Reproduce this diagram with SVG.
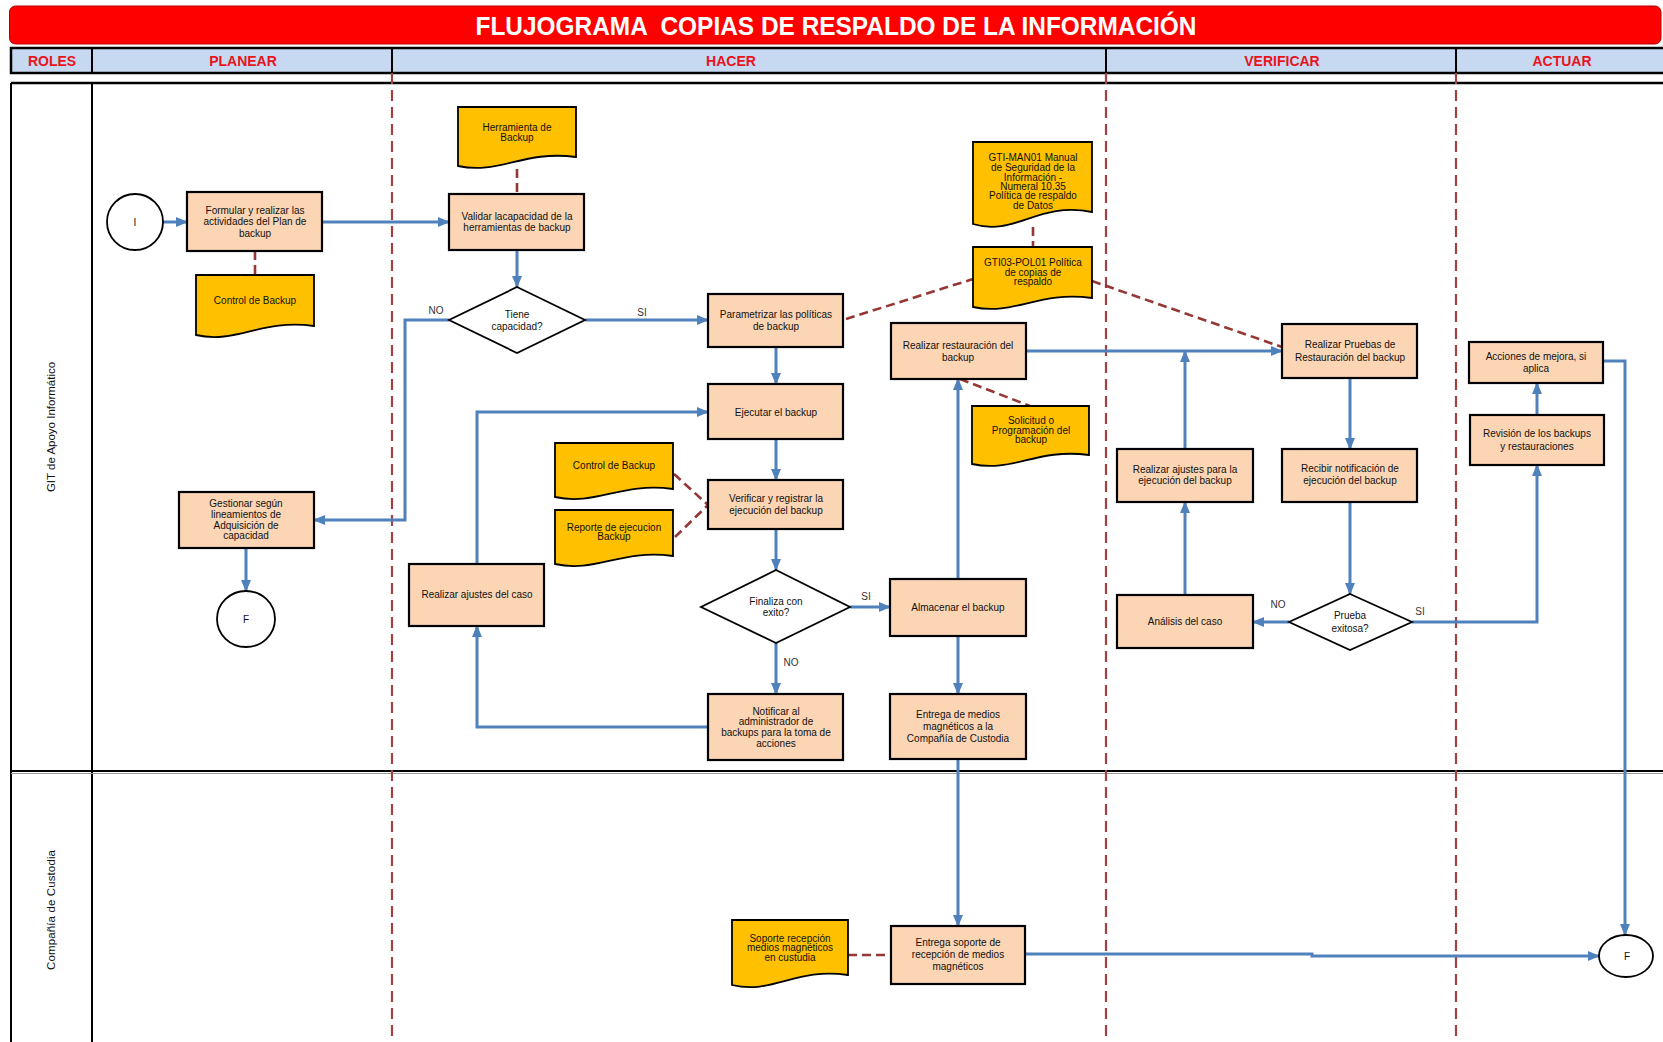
<svg xmlns="http://www.w3.org/2000/svg" width="1663" height="1042" viewBox="0 0 1663 1042">
<defs>
<style>
text{font-family:"Liberation Sans",Arial,sans-serif;fill:#111;font-size:10px;text-anchor:middle}
.title{fill:#fff;font-weight:bold;font-size:25px}
.hdr{fill:#E8141C;font-weight:bold;font-size:14px}
.lane{font-size:11.5px;fill:#111}
.node rect,.box{fill:#FCD5B4;stroke:#000;stroke-width:2.2}
.doc path{fill:#FFC000;stroke:#000;stroke-width:1.8}
.dia{fill:#fff;stroke:#000;stroke-width:1.8}
.circ{fill:#fff;stroke:#000;stroke-width:1.8}
.flow{fill:none;stroke:#4F81BD;stroke-width:3;marker-end:url(#ah)}
.link{fill:none;stroke:#953735;stroke-width:2.6;stroke-dasharray:9 5}
.phase{fill:none;stroke:#A0423F;stroke-width:2.2;stroke-dasharray:11 6}
.lbl{font-size:10px;fill:#333}
</style>
<marker id="ah" markerUnits="userSpaceOnUse" markerWidth="12" markerHeight="10" refX="11" refY="5" orient="auto">
<path d="M0,0 L12,5 L0,10 Z" fill="#4F81BD"/>
</marker>
</defs>
<rect width="1663" height="1042" fill="#fff"/>

<!-- title -->
<g id="title">
<rect x="9.5" y="6" width="1651.5" height="38" rx="6" fill="#FF0000" stroke="#B00000" stroke-width="1"/>
<text class="title" x="836" y="35" textLength="721" lengthAdjust="spacingAndGlyphs" xml:space="preserve">FLUJOGRAMA  COPIAS DE RESPALDO DE LA INFORMACIÓN</text>
</g>

<!-- header -->
<g id="header">
<rect x="11" y="48" width="1660" height="25" fill="#C6D9F1" stroke="#000" stroke-width="2.5"/>
<line x1="92" y1="48" x2="92" y2="73" stroke="#000" stroke-width="2"/>
<line x1="392" y1="48" x2="392" y2="73" stroke="#000" stroke-width="2"/>
<line x1="1106" y1="48" x2="1106" y2="73" stroke="#000" stroke-width="2"/>
<line x1="1456" y1="48" x2="1456" y2="73" stroke="#000" stroke-width="2"/>
<text class="hdr" x="52" y="65.5">ROLES</text>
<text class="hdr" x="243" y="65.5">PLANEAR</text>
<text class="hdr" x="731" y="65.5">HACER</text>
<text class="hdr" x="1282" y="65.5">VERIFICAR</text>
<text class="hdr" x="1562" y="65.5">ACTUAR</text>
</g>

<!-- swimlanes -->
<g id="lanes">
<line x1="11" y1="83" x2="1663" y2="83" stroke="#000" stroke-width="2.5"/>
<line x1="11" y1="83" x2="11" y2="1042" stroke="#000" stroke-width="2"/>
<line x1="92" y1="83" x2="92" y2="1042" stroke="#000" stroke-width="2"/>
<line x1="11" y1="771" x2="1663" y2="771" stroke="#000" stroke-width="2"/>
<line x1="11" y1="773.5" x2="1663" y2="773.5" stroke="#999" stroke-width="1"/>
<text class="lane" transform="translate(55,427) rotate(-90)">GIT de Apoyo Informático</text>
<text class="lane" transform="translate(55,910) rotate(-90)" textLength="120">Compañía de Custodia</text>
<line class="phase" x1="392" y1="73" x2="392" y2="1042"/>
<line class="phase" x1="1106" y1="73" x2="1106" y2="1042"/>
<line class="phase" x1="1456" y1="73" x2="1456" y2="1042"/>
</g>

<!-- connectors -->
<g id="connectors">
<path class="flow" d="M163,222 H187"/>
<path class="flow" d="M322,222 H449"/>
<path class="flow" d="M517,250 V287"/>
<path class="flow" d="M449,320 H405 V520 H314"/>
<path class="flow" d="M585,320 H708"/>
<path class="flow" d="M776,347 V384"/>
<path class="flow" d="M776,439 V480"/>
<path class="flow" d="M776,529 V570"/>
<path class="flow" d="M776,643 V694"/>
<path class="flow" d="M708,727 H477 V626"/>
<path class="flow" d="M477,564 V412 H708"/>
<path class="flow" d="M850,607 H890"/>
<path class="flow" d="M958,579 V379"/>
<path class="flow" d="M958,636 V694"/>
<path class="flow" d="M958,759 V926"/>
<path class="flow" d="M1026,351 H1282"/>
<path class="flow" d="M1185,449 V351"/>
<path class="flow" d="M1350,378 V449"/>
<path class="flow" d="M1350,502 V594"/>
<path class="flow" d="M1289,622 H1253"/>
<path class="flow" d="M1185,595 V502"/>
<path class="flow" d="M1412,622 H1537 V465"/>
<path class="flow" d="M1537,415 V383"/>
<path class="flow" d="M1603,361 H1625 V935"/>
<path class="flow" d="M1025,954 H1312 V956 H1599"/>
<path class="flow" d="M246,548 V591"/>

<path class="link" d="M255,251 V275"/>
<path class="link" d="M517,169 V194"/>
<path class="link" d="M1033,227 V247"/>
<path class="link" d="M846,319 L973,279"/>
<path class="link" d="M1092,281 L1282,347"/>
<path class="link" d="M960,379 L1030,406"/>
<path class="link" d="M674,474 L708,505"/>
<path class="link" d="M675,537 L708,505"/>
<path class="link" d="M848,955 H891"/>

<text class="lbl" x="436" y="314">NO</text>
<text class="lbl" x="642" y="316">SI</text>
<text class="lbl" x="791" y="666">NO</text>
<text class="lbl" x="866" y="600">SI</text>
<text class="lbl" x="1278" y="608">NO</text>
<text class="lbl" x="1420" y="615">SI</text>
</g>

<!-- start / end -->
<g id="start"><circle class="circ" cx="135" cy="222" r="28"/><text x="135" y="226">I</text></g>
<g id="end1"><ellipse class="circ" cx="246" cy="619" rx="29" ry="28"/><text x="246" y="623">F</text></g>
<g id="end2"><ellipse class="circ" cx="1626" cy="956" rx="27" ry="21"/><text x="1627" y="960">F</text></g>

<!-- process nodes -->
<g id="formular" class="node"><rect x="187" y="192" width="135" height="59"/>
<text x="255" y="213.5">Formular y realizar las</text><text x="255" y="224.5">actividades del Plan de</text><text x="255" y="236.5">backup</text></g>
<g id="validar" class="node"><rect x="449" y="194" width="135" height="56"/>
<text x="517" y="219.5">Validar lacapacidad de la</text><text x="517" y="230.5">herramientas de backup</text></g>
<g id="parametrizar" class="node"><rect x="708" y="294" width="135" height="53"/>
<text x="776" y="317.5">Parametrizar las políticas</text><text x="776" y="329.5">de backup</text></g>
<g id="ejecutar" class="node"><rect x="708" y="384" width="135" height="55"/>
<text x="776" y="415.5">Ejecutar el backup</text></g>
<g id="verificar" class="node"><rect x="708" y="480" width="135" height="49"/>
<text x="776" y="501.5">Verificar y registrar la</text><text x="776" y="513.5">ejecución del backup</text></g>
<g id="notificar" class="node"><rect x="708" y="694" width="135" height="66"/>
<text x="776" y="714.5">Notificar al</text><text x="776" y="724.5">administrador de</text><text x="776" y="735.5">backups para la toma de</text><text x="776" y="746.5">acciones</text></g>
<g id="ajustes-caso" class="node"><rect x="409" y="564" width="135" height="62"/>
<text x="477" y="597.5">Realizar ajustes del caso</text></g>
<g id="gestionar" class="node"><rect x="179" y="492" width="135" height="56"/>
<text x="246" y="506.5">Gestionar según</text><text x="246" y="517.5">lineamientos de</text><text x="246" y="528.5">Adquisición de</text><text x="246" y="538.5">capacidad</text></g>
<g id="restauracion" class="node"><rect x="891" y="323" width="135" height="56"/>
<text x="958" y="348.5">Realizar restauración del</text><text x="958" y="360.5">backup</text></g>
<g id="almacenar" class="node"><rect x="890" y="579" width="136" height="57"/>
<text x="958" y="610.5">Almacenar el backup</text></g>
<g id="entrega-medios" class="node"><rect x="890" y="694" width="136" height="65"/>
<text x="958" y="717.5">Entrega de medios</text><text x="958" y="729.5">magnéticos a la</text><text x="958" y="741.5">Compañía de Custodia</text></g>
<g id="entrega-soporte" class="node"><rect x="891" y="926" width="134" height="58"/>
<text x="958" y="945.5">Entrega soporte de</text><text x="958" y="957.5">recepción de medios</text><text x="958" y="969.5">magnéticos</text></g>
<g id="pruebas" class="node"><rect x="1282" y="324" width="135" height="54"/>
<text x="1350" y="347.5">Realizar Pruebas de</text><text x="1350" y="360.5">Restauración del backup</text></g>
<g id="recibir" class="node"><rect x="1282" y="449" width="135" height="53"/>
<text x="1350" y="471.5">Recibir notificación de</text><text x="1350" y="483.5">ejecución del backup</text></g>
<g id="ajustes-ejecucion" class="node"><rect x="1117" y="449" width="136" height="53"/>
<text x="1185" y="472.5">Realizar ajustes para la</text><text x="1185" y="483.5">ejecución del backup</text></g>
<g id="analisis" class="node"><rect x="1117" y="595" width="136" height="53"/>
<text x="1185" y="624.5">Análisis del caso</text></g>
<g id="acciones" class="node"><rect x="1469" y="342" width="134" height="41"/>
<text x="1536" y="359.5">Acciones de mejora, si</text><text x="1536" y="371.5">aplica</text></g>
<g id="revision" class="node"><rect x="1470" y="415" width="134" height="50"/>
<text x="1537" y="436.5">Revisión de los backups</text><text x="1537" y="449.5">y restauraciones</text></g>

<!-- decisions -->
<g id="tiene"><polygon class="dia" points="517,287 585,320 517,353 449,320"/>
<text x="517" y="317.5">Tiene</text><text x="517" y="329.5">capacidad?</text></g>
<g id="finaliza"><polygon class="dia" points="776,570 850,607 776,643 701,607"/>
<text x="776" y="604.5">Finaliza con</text><text x="776" y="615.5">exito?</text></g>
<g id="prueba"><polygon class="dia" points="1350,594 1412,622 1350,650 1289,622"/>
<text x="1350" y="618.5">Prueba</text><text x="1350" y="631.5">exitosa?</text></g>

<!-- documents -->
<g id="doc-control1" class="doc"><path d="M196,275 H314 V326 C261,318.5 237,344.3 196,335 Z"/>
<text x="255" y="303.5">Control de Backup</text></g>
<g id="doc-herramienta" class="doc"><path d="M458,107 H576 V157 C523,150 499,175 458,166 Z"/>
<text x="517" y="130.5">Herramienta de</text><text x="517" y="140.5">Backup</text></g>
<g id="doc-gtiman" class="doc"><path d="M973,142 H1092 V212 C1038,201 1015,237 973,224 Z"/>
<text x="1033" y="160.5">GTI-MAN01 Manual</text><text x="1033" y="170.5">de Seguridad de la</text><text x="1033" y="180.5">Información -</text><text x="1033" y="189.5">Numeral 10.35</text><text x="1033" y="198.5">Política de respaldo</text><text x="1033" y="208.5">de Datos</text></g>
<g id="doc-gtipol" class="doc"><path d="M973,247 H1092 V298 C1038,290.5 1015,316 973,307 Z"/>
<text x="1033" y="265.5">GTI03-POL01 Política</text><text x="1033" y="275.5">de copias de</text><text x="1033" y="284.5">respaldo</text></g>
<g id="doc-solicitud" class="doc"><path d="M972,406 H1089 V455 C1036,448 1013,473 972,464 Z"/>
<text x="1031" y="423.5">Solicitud o</text><text x="1031" y="433.5">Programación del</text><text x="1031" y="442.5">backup</text></g>
<g id="doc-control2" class="doc"><path d="M555,443 H673 V489 C620,482 596,506 555,497 Z"/>
<text x="614" y="468.5">Control de Backup</text></g>
<g id="doc-reporte" class="doc"><path d="M555,510 H673 V556 C620,549 596,573 555,564 Z"/>
<text x="614" y="530.5">Reporte de ejecucion</text><text x="614" y="539.5">Backup</text></g>
<g id="doc-soporte" class="doc"><path d="M732,920 H848 V975 C796,967 773,995 732,985 Z"/>
<text x="790" y="941.5">Soporte recepción</text><text x="790" y="950.5">medios magnéticos</text><text x="790" y="960.5">en custudia</text></g>
</svg>
